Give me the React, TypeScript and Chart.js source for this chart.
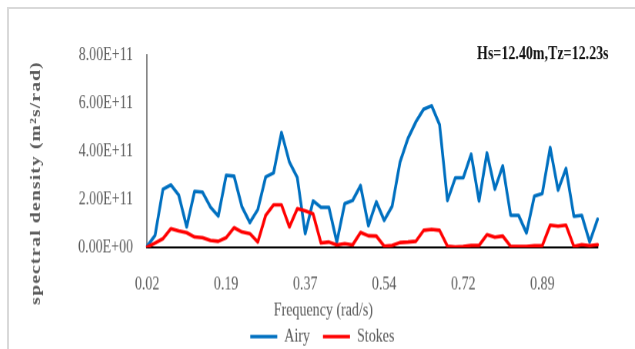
import React, { useEffect, useRef } from 'react';
import { Chart, registerables } from 'chart.js';

Chart.register(...registerables);

// Wave frequency (rad/s) for each spectral line
const frequencies = [
  '0.02', '0.04', '0.05', '0.07', '0.09', '0.11', '0.12', '0.14', '0.16', '0.18',
  '0.19', '0.21', '0.23', '0.25', '0.26', '0.28', '0.30', '0.32', '0.33', '0.35',
  '0.37', '0.39', '0.40', '0.42', '0.44', '0.46', '0.47', '0.49', '0.51', '0.53',
  '0.54', '0.56', '0.58', '0.60', '0.61', '0.63', '0.65', '0.67', '0.68', '0.70',
  '0.72', '0.74', '0.75', '0.77', '0.79', '0.81', '0.82', '0.84', '0.86', '0.88',
  '0.89', '0.91', '0.93', '0.94', '0.96', '0.98', '1.00', '1.01',
];

// Spectral density, Airy (linear) wave theory
const airy = [
  0.05e11, 0.5e11, 2.42e11, 2.6e11, 2.17e11, 0.85e11, 2.33e11, 2.3e11, 1.68e11, 1.3e11,
  3.0e11, 2.96e11, 1.68e11, 1.03e11, 1.57e11, 2.93e11, 3.1e11, 4.78e11, 3.55e11, 2.9e11,
  0.57e11, 1.93e11, 1.66e11, 1.66e11, 0.22e11, 1.82e11, 1.95e11, 2.57e11, 0.9e11, 1.9e11,
  1.12e11, 1.71e11, 3.55e11, 4.53e11, 5.22e11, 5.75e11, 5.89e11, 5.11e11, 1.95e11, 2.89e11,
  2.89e11, 3.88e11, 1.93e11, 3.93e11, 2.42e11, 3.39e11, 1.33e11, 1.33e11, 0.6e11, 2.13e11,
  2.24e11, 4.15e11, 2.38e11, 3.28e11, 1.29e11, 1.33e11, 0.22e11, 1.17e11,
];

// Spectral density, Stokes wave theory
const stokes = [
  0.01e11, 0.18e11, 0.36e11, 0.78e11, 0.68e11, 0.61e11, 0.43e11, 0.4e11, 0.29e11, 0.25e11,
  0.4e11, 0.82e11, 0.64e11, 0.57e11, 0.22e11, 1.33e11, 1.77e11, 1.77e11, 0.85e11, 1.61e11,
  1.52e11, 1.39e11, 0.18e11, 0.22e11, 0.1e11, 0.15e11, 0.1e11, 0.62e11, 0.48e11, 0.47e11,
  0.05e11, 0.08e11, 0.2e11, 0.22e11, 0.25e11, 0.71e11, 0.75e11, 0.71e11, 0.05e11, 0.02e11,
  0.04e11, 0.08e11, 0.08e11, 0.53e11, 0.42e11, 0.47e11, 0.04e11, 0.04e11, 0.04e11, 0.07e11,
  0.07e11, 0.92e11, 0.88e11, 0.92e11, 0.04e11, 0.11e11, 0.07e11, 0.11e11,
];

const yMin = 0;
const yMax = 8e11;
const yStep = 2e11;
const labelEvery = 10;

const seaState = 'Hs=12.40m,Tz=12.23s';
const xTitle = 'Frequency (rad/s)';
const yTitle = 'spectral density (m²s/rad)';

const SERIF = "'Liberation Serif', 'Times New Roman', serif";
const GREY = '#595959';
const STRETCH = 1.3;
const W = 626;
const H = 261.5;

function sci(v: number): string {
  if (v === 0) return '0.00E+00';
  const [m, e] = v.toExponential(2).split('e');
  const n = parseInt(e, 10);
  return `${m}E${n < 0 ? '-' : '+'}${String(Math.abs(n)).padStart(2, '0')}`;
}

const titles = {
  id: 'titles',
  afterDraw(chart: any) {
    const { ctx, chartArea } = chart;
    ctx.save();
    ctx.textBaseline = 'middle';

    ctx.font = `bold 14px ${SERIF}`;
    ctx.fillStyle = '#111111';
    ctx.textAlign = 'right';
    ctx.fillText(seaState, chartArea.right + 11, chartArea.top - 0.5);

    ctx.font = `14px ${SERIF}`;
    ctx.fillStyle = GREY;
    ctx.textAlign = 'center';
    ctx.fillText(xTitle, 314, chartArea.bottom + 49);

    ctx.translate(27, 133.5);
    ctx.rotate(-Math.PI / 2);
    ctx.font = `bold 15px ${SERIF}`;
    (ctx as any).letterSpacing = '0.9px';
    ctx.fillText(yTitle, 0, 0);
    ctx.restore();
  },
};

export default function App() {
  const canvasRef = useRef<HTMLCanvasElement | null>(null);

  useEffect(() => {
    if (!canvasRef.current) return;
    const tickFont = { family: SERIF, size: 14 };
    const chart = new Chart(canvasRef.current, {
      type: 'line',
      data: {
        labels: frequencies,
        datasets: [
          {
            label: 'Airy',
            data: airy,
            borderColor: '#0070C0',
            backgroundColor: '#0070C0',
            borderWidth: 2.75,
            pointRadius: 0,
            tension: 0,
            fill: false,
            borderJoinStyle: 'round',
            borderCapStyle: 'round',
            order: 1,
          },
          {
            label: 'Stokes',
            data: stokes,
            borderColor: '#FF0000',
            backgroundColor: '#FF0000',
            borderWidth: 2.75,
            pointRadius: 0,
            tension: 0,
            fill: false,
            borderJoinStyle: 'round',
            borderCapStyle: 'round',
            order: 0,
          },
        ],
      },
      options: {
        animation: false,
        responsive: true,
        maintainAspectRatio: false,
        devicePixelRatio: STRETCH,
        layout: { padding: { top: 35.4, left: 0, right: 0, bottom: 0 } },
        plugins: {
          legend: {
            position: 'bottom',
            maxHeight: 30,
            labels: {
              usePointStyle: true,
              pointStyle: 'line',
              pointStyleWidth: 27,
              padding: 13,
              color: GREY,
              font: tickFont,
              sort: (a: any, b: any) => a.datasetIndex - b.datasetIndex,
            },
          },
          tooltip: { enabled: false },
        },
        scales: {
          x: {
            type: 'category',
            offset: false,
            grid: { display: false, drawTicks: false },
            border: { display: true, color: '#000000', width: 1.6 },
            ticks: {
              autoSkip: false,
              maxRotation: 0,
              minRotation: 0,
              padding: 20,
              color: GREY,
              font: tickFont,
              callback: (_v: any, i: number) => (i % labelEvery === 0 ? frequencies[i] : ''),
            },
            afterFit: (s: any) => {
              s.height = 48.5;
            },
          },
          y: {
            type: 'linear',
            min: yMin,
            max: yMax,
            grid: { display: false, drawTicks: false },
            border: { display: true, color: '#868686', width: 1.5 },
            ticks: {
              stepSize: yStep,
              padding: 14,
              color: GREY,
              font: tickFont,
              callback: (v: any) => sci(Number(v)),
            },
            afterFit: (s: any) => {
              s.width = 138;
            },
          },
          gutter: {
            type: 'linear',
            position: 'right',
            display: true,
            grid: { display: false, drawTicks: false },
            border: { display: false },
            ticks: { display: false },
            afterFit: (s: any) => {
              s.width = 38;
            },
          },
        },
      },
      plugins: [titles],
    } as any);
    return () => chart.destroy();
  }, []);

  return (
    <div
      style={{
        position: 'fixed',
        left: 7,
        top: 7,
        width: 628,
        height: 342,
        boxSizing: 'border-box',
        borderTop: '2px solid #d9d9d9',
        borderLeft: '2px solid #d9d9d9',
        overflow: 'hidden',
        background: '#ffffff',
      }}
    >
      <div style={{ width: W, height: H, transform: `scaleY(${STRETCH})`, transformOrigin: '0 0' }}>
        <div style={{ position: 'relative', width: W, height: H }}>
          <canvas ref={canvasRef} />
        </div>
      </div>
    </div>
  );
}
